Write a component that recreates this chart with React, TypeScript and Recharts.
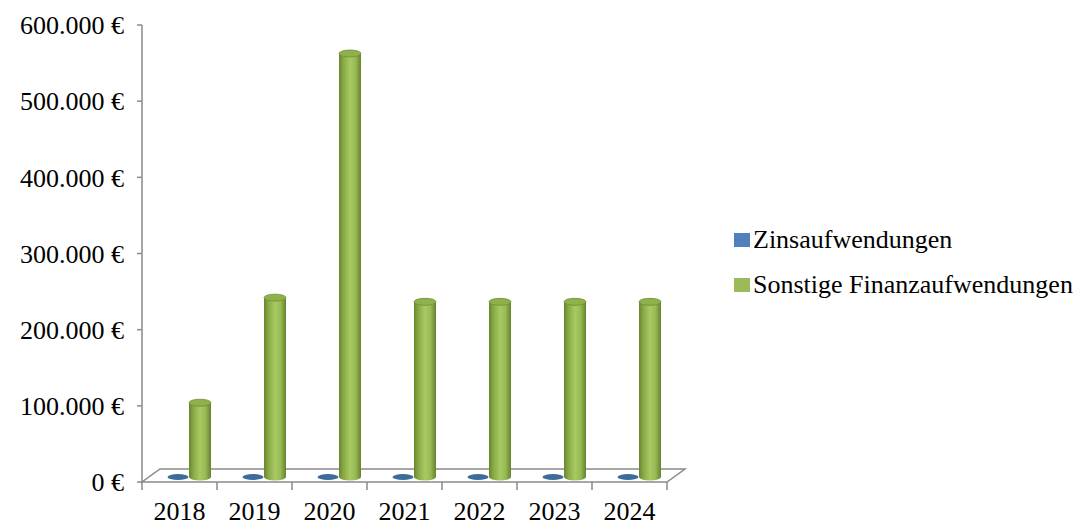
import { Bar, BarChart, Legend, ReferenceLine, XAxis, YAxis } from 'recharts';

const years = ['2018', '2019', '2020', '2021', '2022', '2023', '2024'];
const zinsaufwendungen = [0, 0, 0, 0, 0, 0, 0];
const sonstigeFinanzaufwendungen = [97500, 235500, 556000, 230000, 230000, 230000, 230000];
const yTicks = [0, 100000, 200000, 300000, 400000, 500000, 600000];
const seriesNames = ['Zinsaufwendungen', 'Sonstige Finanzaufwendungen'];
const legendColors = ['#4f81bd', '#9bbb59'];

const data = years.map((year, i) => ({
  year,
  zins: zinsaufwendungen[i],
  sonstige: sonstigeFinanzaufwendungen[i],
}));

const FONT = "'Times New Roman', 'Liberation Serif', serif";
const GRID = '#8a8a8a';
// 3D look: floor depth and the mid-depth shift of the bars
const DEPTH_X = 18;
const DEPTH_Y = -13;
const BAR_DX = 9;
const BAR_DY = -5;

function formatEuro(value: number) {
  return `${String(value).replace(/\B(?=(\d{3})+(?!\d))/g, '.')} €`;
}

function Cylinder(props: any) {
  const { x, y, width, height, index } = props;
  const left = x + BAR_DX;
  const top = y + BAR_DY;
  const bottom = y + height + BAR_DY;
  const rx = width / 2;
  const ry = 3.5;
  const id = `cyl-${index}`;
  return (
    <g>
      <defs>
        <linearGradient id={id} x1="0" y1="0" x2="1" y2="0">
          <stop offset="0%" stopColor="#68842f" />
          <stop offset="18%" stopColor="#86a744" />
          <stop offset="50%" stopColor="#a8ca62" />
          <stop offset="75%" stopColor="#98ba54" />
          <stop offset="100%" stopColor="#66822e" />
        </linearGradient>
      </defs>
      <path
        d={`M${left},${top} L${left},${bottom} A${rx},${ry} 0 0 0 ${left + width},${bottom} L${left + width},${top} Z`}
        fill={`url(#${id})`}
      />
      <ellipse cx={left + rx} cy={top} rx={rx} ry={ry} fill="#8fb14b" stroke="#6f8d36" strokeWidth={0.8} />
    </g>
  );
}

function FlatDisc(props: any) {
  const { x, y, width, height } = props;
  return (
    <ellipse
      cx={x + BAR_DX + width / 2}
      cy={y + height + BAR_DY}
      rx={width / 2 - 0.5}
      ry={3}
      fill="#3d6b9c"
    />
  );
}

function Floor(props: any) {
  const { x1, y1, x2, y2 } = props;
  const n = years.length;
  const step = (x2 - x1) / n;
  const ticks = Array.from({ length: n + 1 }, (_, i) => x1 + i * step);
  return (
    <g>
      <polygon
        points={`${x1},${y1} ${x2},${y2} ${x2 + DEPTH_X},${y2 + DEPTH_Y} ${x1 + DEPTH_X},${y1 + DEPTH_Y}`}
        fill="#ffffff"
        stroke={GRID}
        strokeWidth={1.5}
      />
      {ticks.map((tx) => (
        <line key={tx} x1={tx} y1={y1} x2={tx} y2={y1 + 8} stroke={GRID} strokeWidth={1.5} />
      ))}
    </g>
  );
}

function renderLegend() {
  return (
    <div style={{ fontFamily: FONT, fontSize: 26, color: '#000' }}>
      {seriesNames.map((name, i) => (
        <div
          key={name}
          style={{ display: 'flex', alignItems: 'center', height: 30, marginBottom: i === 0 ? 15 : 0 }}
        >
          <span style={{ display: 'inline-block', width: 16, height: 14, background: legendColors[i], marginRight: 3 }} />
          <span style={{ whiteSpace: 'nowrap' }}>{name}</span>
        </div>
      ))}
    </div>
  );
}

export default function App() {
  return (
    <div style={{ position: 'absolute', left: 0, top: 0, background: '#fff' }}>
      <BarChart
        width={1084}
        height={525}
        data={data}
        margin={{ top: 25, right: 417, bottom: 0, left: 0 }}
        barGap={0}
        barSize={22}
      >
        <ReferenceLine y={0} shape={Floor} zIndex={-50} />
        <XAxis
          dataKey="year"
          height={43}
          interval={0}
          axisLine={false}
          tickLine={false}
          tickSize={0}
          tickMargin={20}
          tick={{ fontSize: 26, fontFamily: FONT, fill: '#000' }}
        />
        <YAxis
          width={142}
          domain={[0, 600000]}
          ticks={yTicks}
          interval={0}
          tickFormatter={formatEuro}
          axisLine={{ stroke: GRID, strokeWidth: 1.5 }}
          tickLine={{ stroke: GRID, strokeWidth: 1.5 }}
          tickSize={5}
          tickMargin={13}
          tick={{ fontSize: 26, fontFamily: FONT, fill: '#000' }}
        />
        <Legend
          layout="vertical"
          align="center"
          verticalAlign="middle"
          content={renderLegend}
          wrapperStyle={{ left: 734, top: 225, width: 350 }}
        />
        <Bar dataKey="zins" name={seriesNames[0]} fill={legendColors[0]} shape={FlatDisc} minPointSize={1} isAnimationActive={false} />
        <Bar dataKey="sonstige" name={seriesNames[1]} fill={legendColors[1]} shape={Cylinder} isAnimationActive={false} />
      </BarChart>
    </div>
  );
}
